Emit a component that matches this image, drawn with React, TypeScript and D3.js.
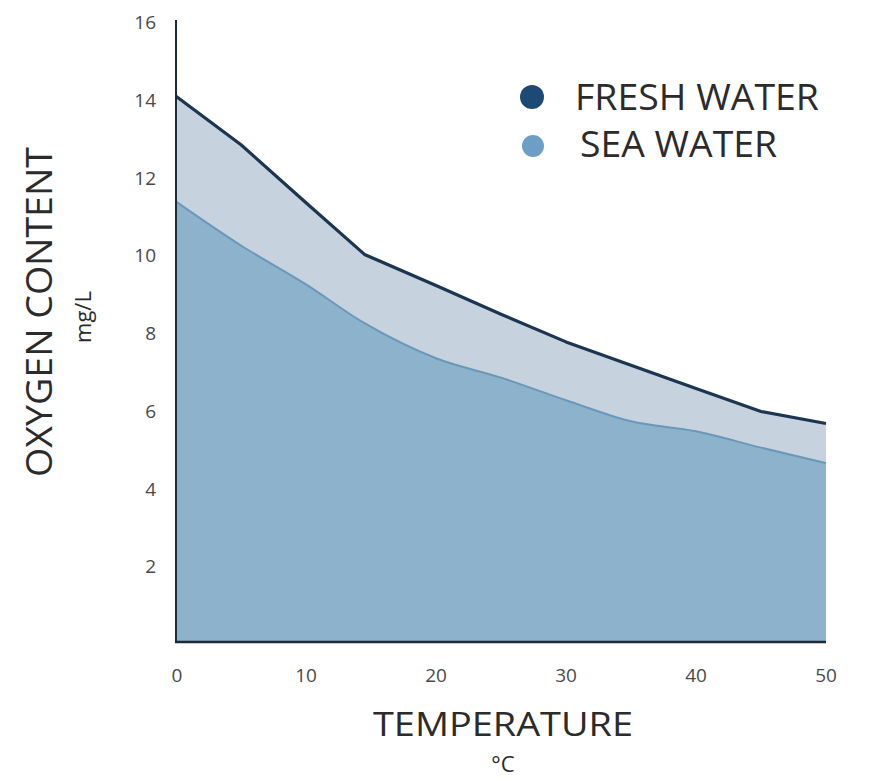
import React from "react";
import * as d3 from "d3";

const temperatures = [0, 5, 10, 14.5, 20, 25, 30, 35, 40, 45, 50];
const freshWater = [14.04, 12.79, 11.3, 9.97, 9.17, 8.43, 7.72, 7.12, 6.52, 5.93, 5.62];
const seaWater = [11.33, 10.2, 9.2, 8.2, 7.3, 6.8, 6.22, 5.68, 5.42, 5.0, 4.6];
const xTicks = [0, 10, 20, 30, 40, 50];
const yTicks = [2, 4, 6, 8, 10, 12, 14, 16];
const seriesNames = ["FRESH WATER", "SEA WATER"];

const W = 872;
const H = 779;
const FONT = "'Open Sans', sans-serif";

export default function App() {
  const x = d3.scaleLinear().domain([0, 50]).range([176, 826]);
  const y = d3.scaleLinear().domain([0, 16]).range([642, 20]);

  const fresh = temperatures.map((t, i) => ({ t, v: freshWater[i] }));
  const sea = temperatures.map((t, i) => ({ t, v: seaWater[i] }));

  const freshArea = d3
    .area<{ t: number; v: number }>()
    .x((d) => x(d.t))
    .y0(y(0))
    .y1((d) => y(d.v))
    .curve(d3.curveLinear);
  const seaArea = d3
    .area<{ t: number; v: number }>()
    .x((d) => x(d.t))
    .y0(y(0))
    .y1((d) => y(d.v))
    .curve(d3.curveMonotoneX);
  const freshLine = d3
    .line<{ t: number; v: number }>()
    .x((d) => x(d.t))
    .y((d) => y(d.v))
    .curve(d3.curveLinear);
  const seaLine = d3
    .line<{ t: number; v: number }>()
    .x((d) => x(d.t))
    .y((d) => y(d.v))
    .curve(d3.curveMonotoneX);

  return (
    <svg
      width={W}
      height={H}
      style={{ position: "absolute", left: 0, top: 0, background: "#fff" }}
    >
      <path d={freshArea(fresh) || ""} fill="#c6d2dd" />
      <path d={seaArea(sea) || ""} fill="#8cb2cc" />
      <path d={seaLine(sea) || ""} fill="none" stroke="#6b98ba" strokeWidth={2} />
      <path d={freshLine(fresh) || ""} fill="none" stroke="#1c3550" strokeWidth={3.2} strokeLinejoin="round" />

      {/* axes */}
      <line x1={x(0)} x2={x(0)} y1={y(16)} y2={y(0) + 1} stroke="#1c2b38" strokeWidth={2} />
      <line x1={x(0) - 1} x2={x(50)} y1={y(0)} y2={y(0)} stroke="#1c2b38" strokeWidth={2.5} />

      {yTicks.map((v) => (
        <text
          key={v}
          x={156}
          y={y(v) + 2}
          textAnchor="end"
          dominantBaseline="central"
          fontFamily={FONT}
          fontSize={19}
          fill="#4a4a4a"
        >
          {v}
        </text>
      ))}
      {xTicks.map((v) => (
        <text
          key={v}
          x={x(v) + (v === 0 ? 1 : 0)}
          y={682}
          textAnchor="middle"
          fontFamily={FONT}
          fontSize={19}
          fill="#4a4a4a"
        >
          {v}
        </text>
      ))}

      {/* axis titles */}
      <text
        x={503}
        y={736}
        textAnchor="middle"
        fontFamily={FONT}
        fontSize={33}
        fill="#2b2b2b"
        textLength={260}
        lengthAdjust="spacingAndGlyphs"
      >
        TEMPERATURE
      </text>
      <text x={503} y={772} textAnchor="middle" fontFamily={FONT} fontSize={22} fill="#2b2b2b">
        °C
      </text>
      <text
        transform={`translate(52,312) rotate(-90)`}
        textAnchor="middle"
        fontFamily={FONT}
        fontSize={36}
        fill="#2b2b2b"
        textLength={330}
        lengthAdjust="spacingAndGlyphs"
      >
        OXYGEN CONTENT
      </text>
      <text
        transform={`translate(91,317) rotate(-90)`}
        textAnchor="middle"
        fontFamily={FONT}
        fontSize={22}
        fill="#2b2b2b"
      >
        mg/L
      </text>

      {/* legend */}
      <circle cx={532} cy={97} r={12} fill="#1d4a74" />
      <circle cx={533} cy={146} r={11} fill="#6d9fc6" />
      <text
        x={575}
        y={110}
        fontFamily={FONT}
        fontSize={36}
        fill="#2b2b2b"
        textLength={244}
        lengthAdjust="spacingAndGlyphs"
      >
        {seriesNames[0]}
      </text>
      <text
        x={580}
        y={157}
        fontFamily={FONT}
        fontSize={36}
        fill="#2b2b2b"
        textLength={197}
        lengthAdjust="spacingAndGlyphs"
      >
        {seriesNames[1]}
      </text>
    </svg>
  );
}
